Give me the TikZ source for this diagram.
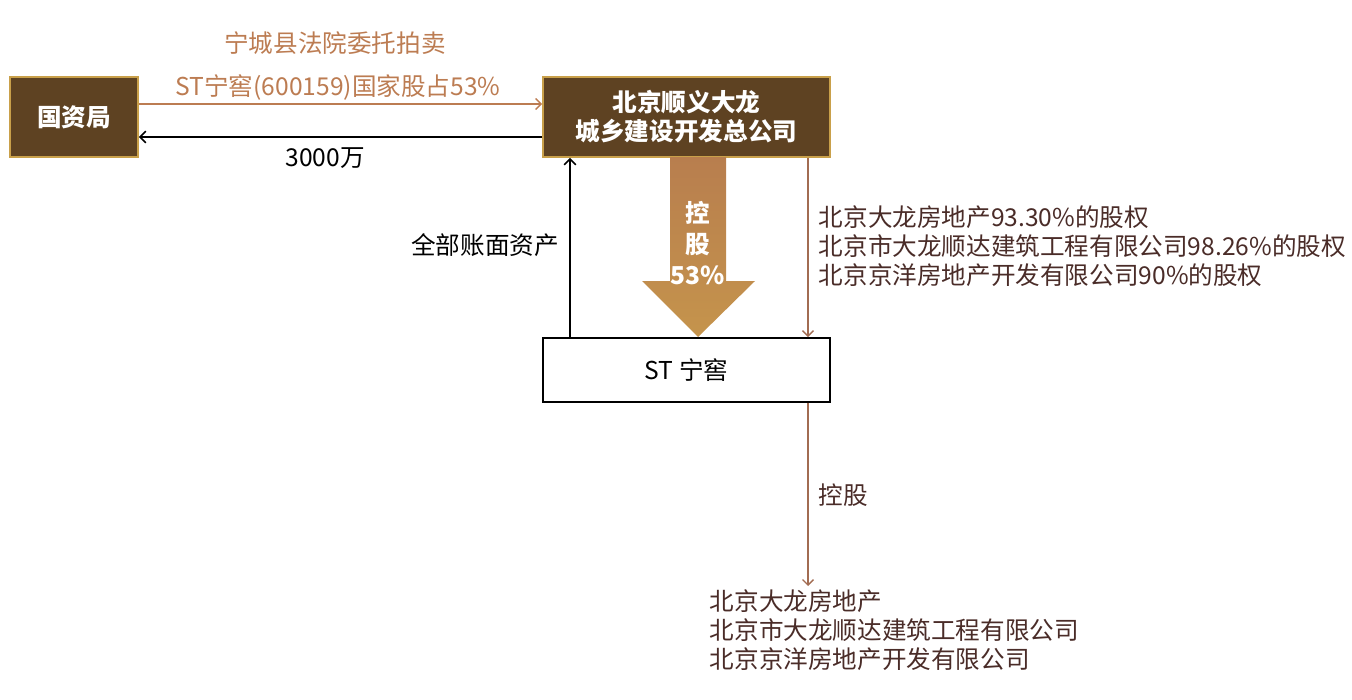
\documentclass[tikz,border=0pt]{standalone}
\usepackage{fontspec}
\setmainfont{Noto Sans CJK SC}
\usepackage{tikz}
\usetikzlibrary{arrows,arrows.meta,calc}
\definecolor{boxbrown}{HTML}{5E4222}
\definecolor{boxgold}{HTML}{C9A04A}
\definecolor{salebrown}{HTML}{BC7C52}
\definecolor{linkbrown}{HTML}{A26C52}
\definecolor{textbrown}{HTML}{4A2C28}
\definecolor{bigtop}{HTML}{B87E4E}
\definecolor{bigbot}{HTML}{C5944C}
\newcommand{\fs}{\fontsize{14pt}{16.5pt}\selectfont}
\tikzset{%
        auto,
        >=Straight Barb,
        font=\fs,
        every node/.style={inner sep=2pt}
}
\tikzstyle{darkbox}=[
    draw = boxgold,
    fill = boxbrown,
    line width = 1pt,
    text = white,
    font = \fs\bfseries,
    align = center,
    minimum height = 1.6cm
]
\tikzstyle{plainbox}=[
    draw = black,
    fill = white,
    line width = 1pt,
    minimum width = 5.74cm,
    minimum height = 1.28cm
]
\tikzstyle{flow}=[
    ->,
    line width = 0.9pt
]

\begin{document}
\begin{tikzpicture}
            \useasboundingbox (0,0) rectangle (27.04,-14);
            \node[darkbox, minimum width=2.56cm] (gzj) at (1.48, -2.34) {国资局};
            \node[darkbox, minimum width=5.74cm] (dalong) at (13.73, -2.34) {北京顺义大龙\\城乡建设开发总公司};
            \node[plainbox] (stnj) at (13.73, -7.4) {ST 宁窖};
            % big arrow
            \shade[top color=bigtop, bottom color=bigbot]
            (13.4, -3.14) -- (14.52, -3.14) -- (14.52, -5.62) -- (15.1, -5.62)
            -- (13.96, -6.74) -- (12.84, -5.62) -- (13.4, -5.62) -- cycle;
            \node[text=white, font=\fs\bfseries] (kg1) at (13.96, -4.26) {控};
            \node[text=white, font=\fs\bfseries] (kg2) at (13.96, -4.9) {股};
            \node[text=white, font=\fs\bfseries] (kg3) at (13.96, -5.5) {53\%};
            \node[anchor=north west, align=left, text=textbrown] (subs) at (14.12, -11.72)
            {北京大龙房地产\\北京市大龙顺达建筑工程有限公司\\北京京洋房地产开发有限公司};
            \coordinate (tip) at (16.16, -11.72);
            \path
            (gzj.east |- 0,-2.08)
            edge[flow, draw=salebrown, line width=0.8pt] (dalong.west |- 0,-2.08)
            (dalong.west |- 0,-2.74)
            edge[flow] (gzj.east |- 0,-2.74)
            (stnj.north -| 11.4,0)
            edge[flow] (dalong.south -| 11.4,0)
            (dalong.south -| tip)
            edge[flow, draw=linkbrown, line width=0.8pt] (stnj.north -| tip)
            (stnj.south -| tip)
            edge[flow, draw=linkbrown, line width=0.8pt] (tip)
            ;
            \node[text=salebrown] (sale1) at (6.7, -0.86) {宁城县法院委托拍卖};
            \node[text=salebrown] (sale2) at (6.76, -1.74) {ST宁窖(600159)国家股占53\%};
            \node (pay) at (6.5, -3.16) {3000万};
            \node (asset) at (9.7, -4.9) {全部账面资产};
            \node[anchor=west, align=left, text=textbrown] (shares) at (16.3, -4.92)
            {北京大龙房地产93.30\%的股权\\北京市大龙顺达建筑工程有限公司98.26\%的股权\\北京京洋房地产开发有限公司90\%的股权};
            \node[anchor=west, text=textbrown] (ctrl) at (16.3, -9.9) {控股};
        \end{tikzpicture}
\end{document}
